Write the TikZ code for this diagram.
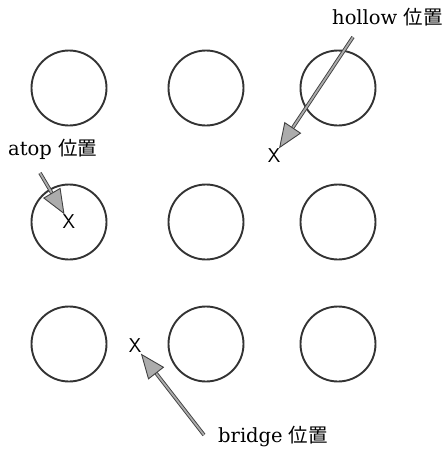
\documentclass[tikz,border=0pt]{standalone}
\usepackage{fontspec}
\setmainfont{DejaVu Serif}
\newfontfamily\cjk{Noto Sans CJK JP}
\usetikzlibrary{arrows.meta}
\tikzset{
  atom/.style={black!80, line width=1.9pt},
  site/.style={inner sep=0.5pt, font=\sffamily\fontsize{20}{20}\selectfont},
  lbl/.style={anchor=base west, inner sep=0pt, font=\fontsize{19.5}{22}\selectfont},
  ptr/.style={draw=black!75, line width=0.9pt, double=gray!65, double distance=1.8pt,
    -{Triangle[length=25pt,width=20pt,fill=gray!65,line width=0.9pt]}}
}
\begin{document}
\begin{tikzpicture}[x=1pt,y=-1pt]
  \useasboundingbox (0,0) rectangle (444,451);
  % surface atoms
  \foreach \x in {69,206,338}{
    \foreach \y in {88,222,344}{
      \draw[atom] (\x,\y) circle[radius=37.5];
    }
  }
  % adsorption sites
  \node[site] (hollowx) at (274,156) {X};
  \node[site] (atopx) at (69,222) {X};
  \node[site] (bridgex) at (135,346) {X};
  % labels
  \node[lbl] (hollowlbl) at (332,24) {hollow {\cjk 位置}};
  \node[lbl] (atoplbl) at (8,155) {atop {\cjk 位置}};
  \node[lbl] (bridgelbl) at (218,442) {bridge {\cjk 位置}};
  \coordinate (hollowtail) at (353,37);
  \coordinate (atoptail) at (40,173);
  \coordinate (bridgetail) at (204,435);
  \draw[ptr] (hollowtail) -- (hollowx);
  \draw[ptr] (atoptail) -- (atopx);
  \draw[ptr] (bridgetail) -- (bridgex);
\end{tikzpicture}
\end{document}
